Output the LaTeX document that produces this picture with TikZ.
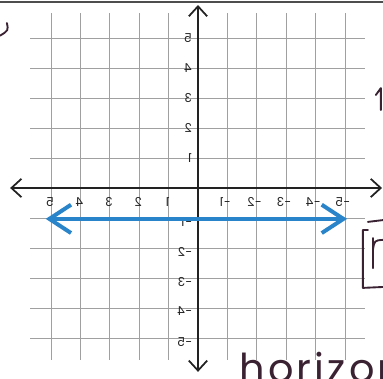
\documentclass[tikz,border=0pt]{standalone}
\usepackage{fontspec}
\setmainfont{Poppins}
\usepackage{graphicx}
\usetikzlibrary{arrows.meta}
\definecolor{GridGray}{HTML}{A0A0A0}
\definecolor{AxisDark}{HTML}{222222}
\definecolor{LineBlue}{HTML}{2A84C9}
\definecolor{InkPurple}{HTML}{3A2232}

\begin{document}
\begin{tikzpicture}[x=0.882cm, y=0.9cm,
        gridline/.style={GridGray, line width=0.8pt},
        axis/.style={AxisDark, line width=1.5pt, {Straight Barb[length=3mm,width=5.5mm]}-{Straight Barb[length=3mm,width=5.5mm]}},
        ticklab/.style={inner sep=0pt, font=\fontsize{10.5}{12}\selectfont, AxisDark},
        bluearrow/.style={LineBlue, line width=3.4pt, {Straight Barb[length=6.5mm,width=8.5mm]}-{Straight Barb[length=6.5mm,width=8.5mm]}},
        ink/.style={InkPurple, line width=1.6pt, line cap=round, line join=round}]

        \useasboundingbox (-6.735,-6.367) rectangle (6.293,6.267);
        \clip (-6.735,-6.367) rectangle (6.293,6.267);

        % grid
        \foreach \k in {-5,...,-1,1,2,...,5} {
            \draw[gridline] (\k,5.83) -- (\k,-5.73);
            \draw[gridline] (-5.71,\k) -- (5.68,\k);
        }

        % axes
        \coordinate (xl) at (-6.39,0);
        \coordinate (xr) at (6.26,0);
        \coordinate (yt) at (0,6.1);
        \coordinate (yb) at (0,-6.13);
        \draw[axis] (xl) -- (xr);
        \draw[axis] (yb) -- (yt);

        % tick labels (mirrored)
        \foreach \k in {1,...,5} {
            \node[ticklab] (xp\k) at (-\k-0.03,-0.48) {\reflectbox{\k}};
            \node[ticklab] (xn\k) at (\k-0.08,-0.48) {\reflectbox{-\k}};
            \node[ticklab, anchor=east] (yp\k) at (-0.2,\k) {\reflectbox{\k}};
            \node[ticklab, anchor=east] (yn\k) at (-0.2,-\k-0.12) {\reflectbox{-\k}};
        }

        % the line y = -1
        \coordinate (bl) at (-5.18,-1.03);
        \coordinate (br) at (5.07,-1.03);
        \draw[bluearrow] (bl) -- (br);

        % page edge and handwriting
        \draw[AxisDark!80, line width=1.5pt] (-6.735,6.2) -- (6.293,6.2);
        \draw[ink] (-6.5,5.5) .. controls (-6.45,5.25) .. (-6.73,5.08);
        \draw[ink] (6.05,3.1) -- (6.22,3.33) -- (6.22,2.6);
        \draw[ink] (5.78,-1.4) -- (5.61,-1.4) -- (5.61,-3.33) -- (6.29,-3.3);
        \draw[ink] (5.78,-1.13) -- (6.29,-1.07);
        \draw[ink] (5.95,-1.67) -- (5.95,-2.67);
        \draw[ink] (5.95,-2.07) .. controls (6.0,-1.75) .. (6.29,-1.73);
        \node[InkPurple, anchor=base west, inner sep=0pt, font=\fontsize{34}{34}\selectfont\addfontfeature{LetterSpace=8}] (hz) at (1.4,-6.5) {horizon};
\end{tikzpicture}
\end{document}
